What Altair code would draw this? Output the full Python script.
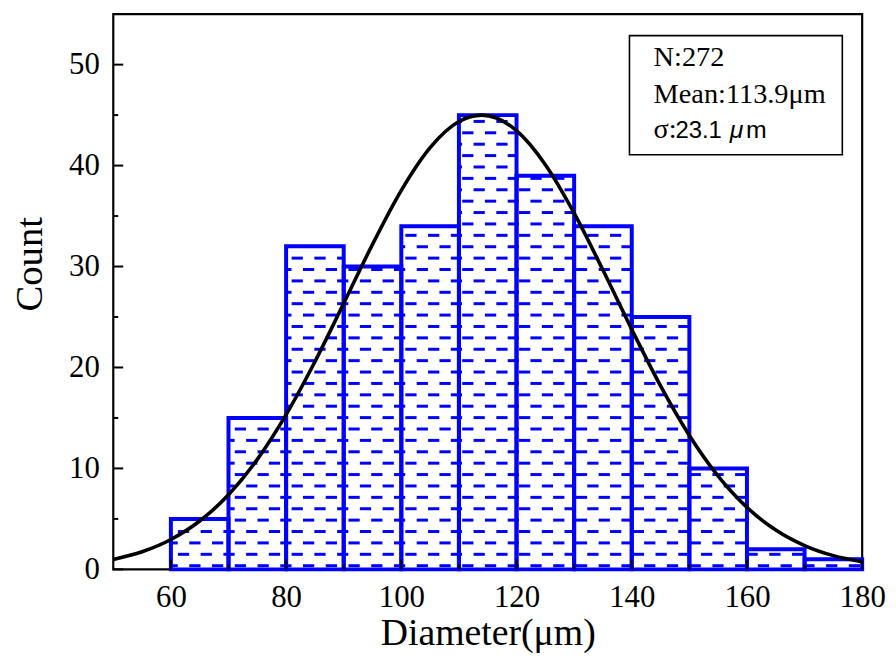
import altair as alt
import pandas as pd

# ---- data ----
bin_lo = [60, 70, 80, 90, 100, 110, 120, 130, 140, 150, 160, 170]
bin_width = 10
counts = [5, 15, 32, 30, 34, 45, 39, 34, 25, 10, 2, 1]

curve_x = [50, 55, 60, 65, 70, 75, 80, 85, 90, 95, 100, 105, 110, 114,
           120, 125, 130, 135, 140, 145, 150, 155, 160, 165, 170, 175, 180]
curve_y = [0.98, 1.74, 2.96, 4.79, 7.39, 10.9, 15.33, 20.57, 26.35, 32.2, 37.55,
           41.78, 44.37, 45.0, 43.46, 40.09, 35.29, 29.65, 23.77, 18.18, 13.27,
           9.24, 6.14, 3.9, 2.36, 1.36, 0.75]

x_major = [60, 80, 100, 120, 140, 160, 180]
x_minor = [70, 90, 110, 130, 150, 170]
y_major = [0, 10, 20, 30, 40, 50]
y_minor = [5, 15, 25, 35, 45]

stat_n = "N:272"
stat_mean = "Mean:113.9μm"
stat_sigma_sym = "σ:"
stat_sigma_val = "23.1"
stat_mu = "μ"
stat_m = "m"

x_title = "Diameter(μm)"
y_title = "Count"

# ---- styling constants ----
W, H = 754, 559
BLUE = "#0000FF"
SERIF = "Liberation Serif"
SANS = "Liberation Sans"

# hatch (dashed horizontal fill pattern) geometry, in data units
ROW0, ROW_STEP = 0.364, 1.1285
DASH_ANCHOR, DASH_PERIOD, DASH_LEN = 106.62, 3.948, 1.95

bars = pd.DataFrame({
    "lo": bin_lo,
    "hi": [b + bin_width for b in bin_lo],
    "count": counts,
})

# build the dashed hatch segments that fill each bar
segs = []
for lo, c in zip(bin_lo, counts):
    hi = lo + bin_width
    k = 0
    while True:
        yk = ROW0 + k * ROW_STEP
        if yk > c - 0.15:
            break
        shift = (DASH_PERIOD / 2) if (k % 2) else 0.0
        n = int((lo - DASH_ANCHOR - shift) // DASH_PERIOD) - 1
        while True:
            s = DASH_ANCHOR + shift + n * DASH_PERIOD
            if s > hi:
                break
            a, b = max(s, lo), min(s + DASH_LEN, hi)
            if b > a:
                segs.append({"lo": a, "hi": b, "count": yk})
            n += 1
        k += 1
hatch = pd.DataFrame(segs)

curve = pd.DataFrame({"lo": curve_x, "count": curve_y})

xs = alt.Scale(domain=[50, 180], nice=False, zero=False)
ys = alt.Scale(domain=[0, 55], nice=False, zero=False)

x_axis = alt.Axis(
    values=x_major, format="d", domain=False, ticks=False, tickSize=0, grid=False,
    labelFont=SERIF, labelFontSize=31, labelColor="black", labelPadding=13,
    labelFlush=False, labelOverlap=False,
    title=x_title, titleFont=SERIF, titleFontSize=38, titleFontWeight="normal",
    titleColor="black", titleX=377, titleY=75.5, titleBaseline="alphabetic",
    titleAlign="center",
)
y_axis = alt.Axis(
    values=y_major, format="d", domain=False, ticks=False, tickSize=0, grid=False,
    labelFont=SERIF, labelFontSize=31, labelColor="black", labelPadding=14,
    labelFlush=False, labelOverlap=False,
    title=y_title, titleFont=SERIF, titleFontSize=39, titleFontWeight="normal",
    titleColor="black", titleAngle=270, titleX=-72.6, titleY=251.3,
    titleBaseline="alphabetic", titleAlign="center",
)

X = alt.X("lo:Q", scale=xs, axis=x_axis)
Y = alt.Y("count:Q", scale=ys, axis=y_axis)

bars_fill = alt.Chart(bars).mark_rect(fill="white", strokeWidth=0).encode(
    x=X, x2="hi:Q", y=Y, y2=alt.datum(0),
)

hatch_layer = alt.Chart(hatch).mark_rule(color=BLUE, strokeWidth=3).encode(
    x=X, x2="hi:Q", y=Y,
)

bars_edge = alt.Chart(bars).mark_rect(
    fill="white", fillOpacity=0, stroke=BLUE, strokeWidth=4
).encode(
    x=X, x2="hi:Q", y=Y, y2=alt.datum(0),
)

curve_layer = alt.Chart(curve).mark_line(
    color="black", strokeWidth=3.6, interpolate="monotone"
).encode(x=X, y=Y)

xt_major = pd.DataFrame({"lo": x_major})
xt_minor = pd.DataFrame({"lo": x_minor})
yt_major = pd.DataFrame({"count": y_major})
yt_minor = pd.DataFrame({"count": y_minor})

x_ticks_major = alt.Chart(xt_major).mark_rule(color="black", strokeWidth=2).encode(
    x=X, y=alt.value(H), y2=alt.value(H - 10))
x_ticks_minor = alt.Chart(xt_minor).mark_rule(color="black", strokeWidth=2).encode(
    x=X, y=alt.value(H), y2=alt.value(H - 5))
y_ticks_major = alt.Chart(yt_major).mark_rule(color="black", strokeWidth=2).encode(
    y=Y, x=alt.value(0), x2=alt.value(10))
y_ticks_minor = alt.Chart(yt_minor).mark_rule(color="black", strokeWidth=2).encode(
    y=Y, x=alt.value(0), x2=alt.value(5))

box = alt.Chart(pd.DataFrame({"a": [0]})).mark_rect(
    fill="white", stroke="black", strokeWidth=1.6
).encode(
    x=alt.value(519.7), x2=alt.value(734), y=alt.value(21.6), y2=alt.value(141.6)
)


def label(txt, x, y, font, size, style="normal"):
    return alt.Chart(pd.DataFrame({"t": [txt]})).mark_text(
        font=font, fontSize=size, fontStyle=style, color="black",
        align="left", baseline="alphabetic"
    ).encode(text="t:N", x=alt.value(x), y=alt.value(y))


FS = 28.5
t1 = label(stat_n, 544, 52.6, SERIF, FS)
t2 = label(stat_mean, 544, 89.3, SERIF, FS)
t3 = label(stat_sigma_sym, 544, 124.3, SERIF, FS)
t4 = label(stat_sigma_val, 566, 124.3, SANS, 24)
t5 = label(stat_mu, 620.7, 124.3, SANS, 25, "italic")
t6 = label(stat_m, 637, 124.3, SANS, 25)

chart = alt.layer(
    bars_fill, hatch_layer, bars_edge, curve_layer,
    x_ticks_major, x_ticks_minor, y_ticks_major, y_ticks_minor,
    box, t1, t2, t3, t4, t5, t6,
).properties(
    width=W, height=H,
    autosize=alt.AutoSizeParams(type="none"),
    padding={"left": 106, "top": 4, "right": 26, "bottom": 84},
    background="white",
).configure_view(stroke="black", strokeWidth=2.2)

chart.save("out.html", embed_options={"renderer": "svg", "actions": False})
